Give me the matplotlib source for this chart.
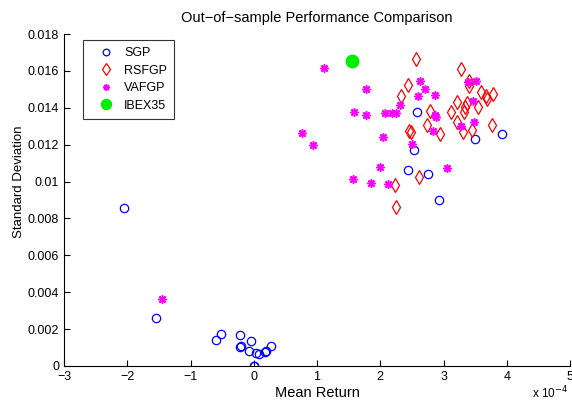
import matplotlib
matplotlib.use("Agg")
import matplotlib.pyplot as plt
from matplotlib.ticker import FuncFormatter
import numpy as np

plt.rcParams['font.family'] = ['Liberation Sans', 'DejaVu Sans']

# mean return in units of 1e-4, standard deviation as is
sgp_ret = [2.58, 3.50, 3.92, 2.53, 2.44, 2.75, 2.93, -2.06, -1.54, -0.52, -0.60,
           -0.22, -0.05, -0.21, -0.22, -0.07, 0.04, 0.09, 0.17, 0.20, 0.28, 0.0, 0.01]
sgp_std = [0.01377, 0.0123, 0.0126, 0.01172, 0.01062, 0.01042, 0.0090, 0.00856, 0.0026,
           0.00172, 0.00143, 0.00168, 0.00134, 0.0011, 0.00105, 0.00083, 0.00072,
           0.00065, 0.00078, 0.00081, 0.00108, 0.0, 0.00002]

rsfgp_ret = [2.57, 3.28, 3.40, 3.41, 2.44, 2.32, 3.59, 3.67, 3.69, 3.78, 3.22, 3.37,
             3.34, 3.32, 3.54, 3.12, 2.79, 3.21, 2.74, 3.31, 3.45, 3.76, 2.46, 2.48,
             2.94, 2.61, 2.24, 2.25]
rsfgp_std = [0.01666, 0.0161, 0.01543, 0.01518, 0.01523, 0.01463, 0.01487, 0.01463,
             0.01446, 0.01473, 0.01433, 0.01424, 0.01406, 0.01378, 0.01402, 0.01378,
             0.01384, 0.01322, 0.01306, 0.01267, 0.01279, 0.01306, 0.01275, 0.01268,
             0.01257, 0.01026, 0.00979, 0.00863]

vafgp_ret = [1.11, 1.78, 1.58, 1.77, 2.07, 2.19, 2.25, 2.31, 2.63, 2.71, 2.59, 2.87,
             2.86, 2.88, 0.76, 0.94, 2.05, 2.50, 2.83, 2.00, 1.57, 1.85, 2.13, 3.05,
             3.39, 3.51, 3.47, 3.48, 3.28, -1.45]
vafgp_std = [0.01617, 0.0150, 0.01377, 0.0136, 0.0137, 0.0137, 0.0137, 0.01413, 0.01548,
             0.0150, 0.01463, 0.01467, 0.01362, 0.01348, 0.01261, 0.0120, 0.0124,
             0.01203, 0.01274, 0.01077, 0.01015, 0.00993, 0.00986, 0.01075, 0.01541,
             0.01548, 0.01436, 0.01322, 0.0130, 0.00365]

ibex_ret = [1.56]
ibex_std = [0.01653]

fig = plt.figure(figsize=(5.72, 4.01), dpi=100)
ax = fig.add_axes([0.112, 0.0873, 0.8845, 0.8277])

ax.plot(sgp_ret, sgp_std, 'o', mfc='none', mec='#0000ff', ms=6, mew=0.9, label='SGP')
ax.plot(rsfgp_ret, rsfgp_std, 'd', mfc='none', mec='#ff0000', ms=7.5, mew=0.9, label='RSFGP')
ax.plot(vafgp_ret, vafgp_std, ls='none', marker=(8, 2, 0), color='#ff00ff', ms=6,
        mew=1.1, label='VAFGP')
ax.plot(ibex_ret, ibex_std, 'o', color='#00ee00', ms=9, label='IBEX35')

ax.set_xlim(-3, 5)
ax.set_ylim(0, 0.018)
ax.set_xticks(np.arange(-3, 6, 1))
ax.set_yticks(np.arange(0, 0.0181, 0.002))
ax.yaxis.set_major_formatter(FuncFormatter(lambda v, _: f"{round(v, 4):g}"))
ax.xaxis.set_major_formatter(FuncFormatter(lambda v, _: f"{v:g}".replace('-', '\u2212')))
ax.spines['top'].set_visible(False)
ax.spines['right'].set_visible(False)
ax.tick_params(direction='in', length=4, labelsize=9, top=False, right=False)

ax.set_title('Out\u2212of\u2212sample Performance Comparison', fontsize=10.5, pad=9)
ax.set_xlabel('Mean Return', fontsize=10.5, labelpad=2)
ax.set_ylabel('Standard Deviation', fontsize=9.5)
ax.yaxis.set_label_coords(-0.077, 0.554)
fig.text(568 / 572, 2.5 / 401, 'x 10$^{-4}$', ha='right', va='baseline', fontsize=8.5)

leg = ax.legend(loc='upper left', bbox_to_anchor=(0.0375, 0.982), borderaxespad=0,
                fontsize=9, frameon=True, fancybox=False, edgecolor='black',
                handlelength=2.5, handletextpad=0.25, markerscale=0.8,
                borderpad=0.55, labelspacing=0.45)
leg.get_frame().set_linewidth(0.8)

fig.savefig('out.png', dpi=100)
